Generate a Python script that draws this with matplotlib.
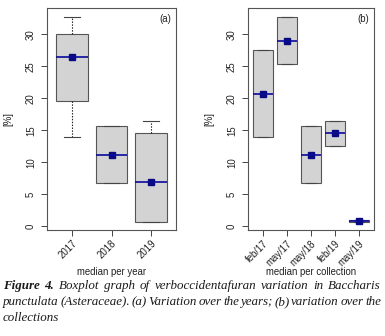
import matplotlib
matplotlib.use("Agg")
import matplotlib.pyplot as plt

# (a) per year
years = ["2017", "2018", "2019"]
y_q1 = [19.6, 6.7, 0.7]
y_med = [26.4, 11.2, 6.85]
y_q3 = [30.0, 15.6, 14.5]
y_lo = [14.0, 6.7, 0.7]
y_hi = [32.7, 15.6, 16.4]

# (b) per collection
colls = ["feb/17", "may/17", "may/18", "feb/19", "may/19"]
c_q1 = [14.0, 25.3, 6.7, 12.6, 0.7]
c_med = [20.7, 29.0, 11.2, 14.5, 0.85]
c_q3 = [27.5, 32.7, 15.6, 16.4, 1.0]
c_lo = [14.0, 25.3, 6.7, 12.6, 0.7]
c_hi = [27.5, 32.7, 15.6, 16.4, 1.0]

fs = 6.9
plt.rcParams['font.family'] = ['Liberation Sans', 'DejaVu Sans']

fig = plt.figure(figsize=(3.85, 3.36), dpi=100)
axa = fig.add_axes([47/385, 1-230/336, 129/385, 222/336])
axb = fig.add_axes([248/385, 1-230/336, 126/385, 222/336])


def boxes(ax, labels, q1, med, q3, lo, hi, xlabel, tag):
    stats = []
    for i in range(len(labels)):
        stats.append(dict(q1=q1[i], med=med[i], q3=q3[i], whislo=lo[i], whishi=hi[i], fliers=[]))
    pos = list(range(1, len(labels) + 1))
    ax.bxp(stats, positions=pos, widths=0.8, patch_artist=True, showfliers=False,
           boxprops=dict(facecolor='#d3d3d3', edgecolor='#555555', linewidth=0.8),
           medianprops=dict(color='#0a0a9a', linewidth=1.2),
           whiskerprops=dict(color='#222222', linewidth=0.8, linestyle=(0, (1.3, 1.3))),
           capprops=dict(color='#444444', linewidth=0.8), capwidths=0.4)
    ax.plot(pos, med, 's', color='#0a0a80', markersize=4)
    ax.set_xlim(0.38, len(labels) + 0.62)
    ax.set_ylim(-0.6, 34.1)
    ax.set_yticks([0, 5, 10, 15, 20, 25, 30])
    ax.set_yticklabels(['0', '5', '10', '15', '20', '25', '30'], rotation=90, va='center', fontsize=fs, color='#222222')
    ax.set_xticks(pos)
    ax.set_xticklabels(labels, rotation=45, ha='right', rotation_mode='anchor', fontsize=fs, color='#222222')
    ax.tick_params(length=4, width=0.7, color='#444444', pad=2)
    ax.tick_params(axis='y', pad=4)
    for s in ax.spines.values():
        s.set_color('#555555')
        s.set_linewidth(0.8)
    ax.set_ylabel('[%]', fontsize=fs, color='#222222')
    ax.yaxis.set_label_coords(-34/129, 0.5)
    ax.set_xlabel(xlabel, fontsize=fs, color='#222222', va='center')
    ax.xaxis.set_label_coords(0.5, -42/222)
    ax.text(0.96, 0.975, tag, transform=ax.transAxes, ha='right', va='top', fontsize=fs, color='#222222')


boxes(axa, years, y_q1, y_med, y_q3, y_lo, y_hi, 'median per year', '(a)')
boxes(axb, colls, c_q1, c_med, c_q3, c_lo, c_hi, 'median per collection', '(b)')

# caption, justified
cap = [
    [("Figure", "bold"), ("4.", "bold"), ("Boxplot", "normal"), ("graph", "normal"), ("of", "normal"),
     ("verboccidentafuran", "normal"), ("variation", "normal"), ("in", "normal"), ("Baccharis", "normal")],
    [("punctulata", "normal"), ("(Asteraceae).", "normal"), ("(a)", "normal"), ("Variation", "normal"),
     ("over", "normal"), ("the", "normal"), ("years;", "normal"), ("(b)", "normal"), ("variation", "normal"),
     ("over", "normal"), ("the", "normal")],
    [("collections", "normal")],
]
base_y = [289, 305, 321]
r = fig.canvas.get_renderer()
for k, words in enumerate(cap):
    y = 1 - base_y[k] / 336
    ts = [fig.text(0, y, w, fontsize=9.4, family=['Liberation Serif'], style='italic', weight=wt,
                   va='baseline', color='#1a1a1a') for w, wt in words]
    ws = [t.get_window_extent(r).width / fig.bbox.width for t in ts]
    x0, x1 = 3/385, 381/385
    if len(ts) > 1 and k < 2:
        gap = (x1 - x0 - sum(ws)) / (len(ts) - 1)
    else:
        gap = 0.01
    x = x0
    for t, w in zip(ts, ws):
        t.set_x(x)
        x += w + gap

fig.savefig('out.png', dpi=100)
